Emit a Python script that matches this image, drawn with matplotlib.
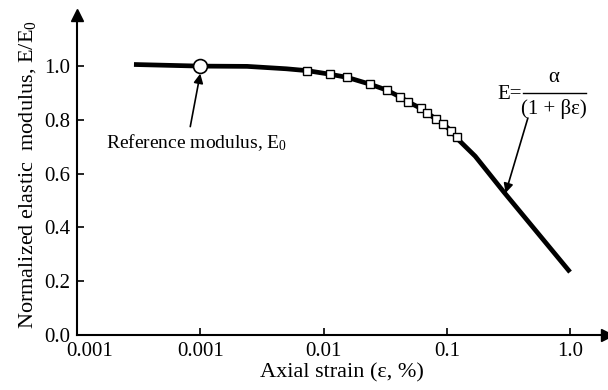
import matplotlib
matplotlib.use("Agg")
import matplotlib.pyplot as plt
import matplotlib.transforms as mtransforms

plt.rcParams['font.family'] = ['Liberation Serif', 'DejaVu Serif']
plt.rcParams['mathtext.fontset'] = 'custom'
plt.rcParams['mathtext.rm'] = 'Liberation Serif'
plt.rcParams['mathtext.it'] = 'Liberation Serif'

# fitted curve E/E0 vs axial strain
strain = [2.9e-4, 1e-3, 2.4e-3, 5e-3, 7.4e-3, 0.0112, 0.0156, 0.0237, 0.0325,
          0.0415, 0.0485, 0.0615, 0.0697, 0.0814, 0.094, 0.108, 0.120, 0.125,
          0.17, 0.219, 0.29, 1.0]
modulus = [1.006, 1.0, 0.999, 0.99, 0.983, 0.970, 0.958, 0.933, 0.911,
           0.886, 0.867, 0.843, 0.826, 0.803, 0.784, 0.760, 0.735, 0.725,
           0.665, 0.602, 0.532, 0.234]

# measured points (squares)
meas_strain = [7.4e-3, 0.0112, 0.0156, 0.0237, 0.0325, 0.0415, 0.0485,
               0.0615, 0.0697, 0.0814, 0.094, 0.108, 0.120]
meas_modulus = [0.983, 0.970, 0.958, 0.933, 0.911, 0.886, 0.867,
                0.843, 0.826, 0.803, 0.784, 0.760, 0.735]

# reference point
ref_strain = [1e-3]
ref_modulus = [1.0]

xticks = [1e-4, 1e-3, 1e-2, 1e-1, 1.0]
xtick_labels = ["0.001", "0.001", "0.01", "0.1", "1.0"]
yticks = [0.0, 0.2, 0.4, 0.6, 0.8, 1.0]

fig = plt.figure(figsize=(6.08, 3.90), dpi=100)
ax = fig.add_axes([0.1266, 0.141, 0.872, 0.8205])

ax.plot(strain, modulus, color='black', lw=3.4, solid_capstyle='butt', zorder=2)
ax.plot(meas_strain, meas_modulus, ls='none', marker='s', ms=6,
        mfc='white', mec='black', mew=1.0, zorder=3)
ax.plot(ref_strain, ref_modulus, ls='none', marker='o', ms=10,
        mfc='white', mec='black', mew=1.2, zorder=4)

ax.set_xscale('log')
ax.set_xlim(1e-4, 2.0)
ax.set_ylim(0, 1.19)

ax.set_xticks(xticks)
ax.set_xticklabels(xtick_labels)
ax.xaxis.set_minor_locator(matplotlib.ticker.NullLocator())
ax.set_yticks(yticks)
ax.set_yticklabels([f"{v:.1f}" for v in yticks])
ax.tick_params(direction='in', length=5, width=1.2, labelsize=15, pad=5)

# shift first x label to the right so it clears "0.0"
first = ax.get_xticklabels()[0]
first.set_transform(first.get_transform() +
                    mtransforms.ScaledTranslation(13 / 100, 0, fig.dpi_scale_trans))

for side in ['top', 'right']:
    ax.spines[side].set_visible(False)
for side in ['left', 'bottom']:
    ax.spines[side].set_linewidth(1.5)

# arrow heads on axes
ax.plot(1, 0, marker='>', ms=9, color='black', transform=ax.transAxes, clip_on=False)
ax.plot(0, 1, marker='^', ms=9, color='black', transform=ax.transAxes, clip_on=False)

ax.set_xlabel("Axial strain (ε, %)", fontsize=16, labelpad=2)
ax.set_ylabel(r"Normalized elastic  modulus, E/E$_\mathrm{0}$", fontsize=16, labelpad=4)

ax.text(9.3e-4, 0.714, r"Reference modulus, E$_\mathrm{0}$", fontsize=14,
        ha='center', va='center')
ax.annotate("", xy=(1e-3, 0.972), xytext=(8.3e-4, 0.775),
            arrowprops=dict(arrowstyle='-|>', color='black', lw=1.2,
                            mutation_scale=14, shrinkA=0, shrinkB=0))

# formula E = alpha / (1 + beta*eps), built from parts
ax.text(0.41, 0.893, "E=", fontsize=15, ha='right', va='center')
ax.text(0.74, 0.957, "α", fontsize=15, ha='center', va='center')
ax.plot([0.418, 1.35], [0.9, 0.9], color='black', lw=1.0)
ax.text(0.74, 0.842, "(1 + βε)", fontsize=15, ha='center', va='center')
ax.annotate("", xy=(0.30, 0.528), xytext=(0.455, 0.807),
            arrowprops=dict(arrowstyle='-|>', color='black', lw=1.2,
                            mutation_scale=14, shrinkA=0, shrinkB=0))

fig.savefig("out.png", dpi=100)
